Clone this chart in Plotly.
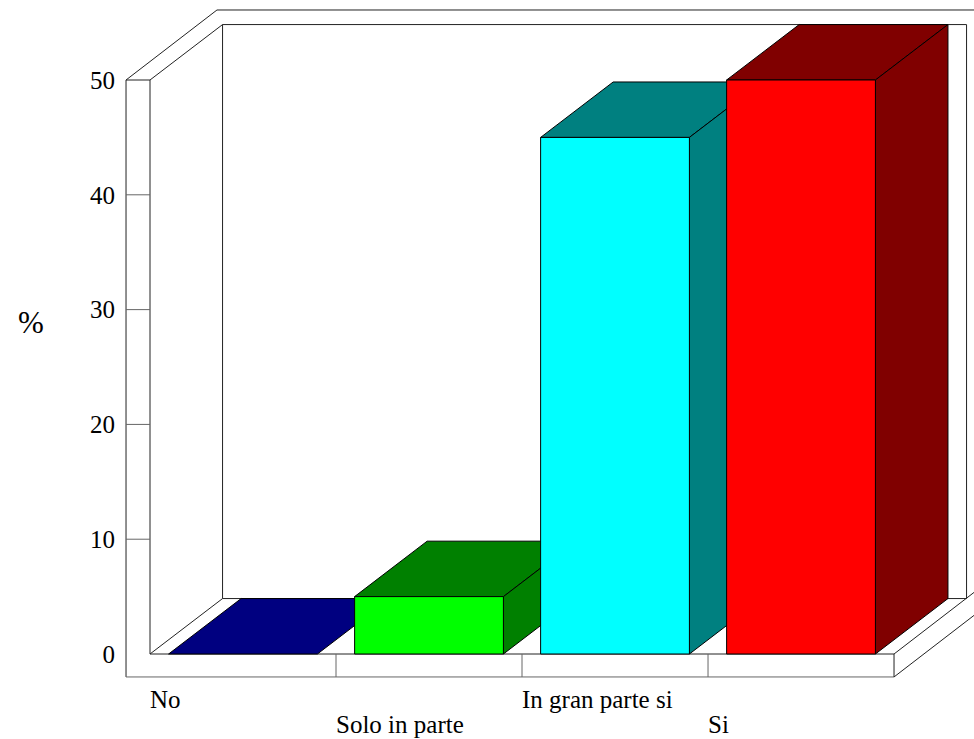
import plotly.graph_objects as go

# ---------------- data ----------------
categories = ["No", "Solo in parte", "In gran parte si", "Si"]
values = [0, 5, 45, 50]
front_colors = ["#0000FF", "#00FF00", "#00FFFF", "#FF0000"]
side_colors = ["#000080", "#008000", "#008080", "#800000"]
y_ticks = [0, 10, 20, 30, 40, 50]
y_title = "%"

# ---------------- geometry (data units) ----------------
N = len(categories)
YMAX = max(y_ticks)
BAR_W = 0.8
DX, DY = 0.39, 4.83      # depth of the box (back wall plane)
ODX, ODY = 0.489, 6.10   # outer depth of the walls
WALL_T = 0.129           # thickness of left wall
FLOOR_T = 2.0            # thickness of floor slab
XR = [-0.8065, 4.430]
YR = [-7.404, 56.97]

FRAME = "#222222"
BASE = "#666666"

fig = go.Figure()

# ---------------- frame (walls / floor) ----------------
segs = []
segs.append(((-WALL_T, YMAX), (-WALL_T, -FLOOR_T), FRAME))
segs.append(((0, YMAX), (0, 0), FRAME))
segs.append(((-WALL_T, YMAX), (0, YMAX), FRAME))
segs.append(((-WALL_T, YMAX), (-WALL_T + ODX, YMAX + ODY), FRAME))
segs.append(((0, YMAX), (DX, YMAX + DY), FRAME))
segs.append(((DX, DY), (DX, YMAX + DY), FRAME))
segs.append(((DX, YMAX + DY), (N + DX, YMAX + DY), FRAME))
segs.append(((N + DX, DY), (N + DX, YMAX + DY), FRAME))
segs.append(((DX, DY), (N + DX, DY), FRAME))
segs.append(((-WALL_T + ODX, YMAX + ODY), (N + 1, YMAX + ODY), FRAME))
segs.append(((0, 0), (DX, DY), FRAME))
segs.append(((0, 0), (N, 0), FRAME))
segs.append(((-WALL_T, -FLOOR_T), (N, -FLOOR_T), BASE))
segs.append(((N, 0), (N, -FLOOR_T), FRAME))
segs.append(((N, 0), (N + ODX, ODY), FRAME))
segs.append(((N, -FLOOR_T), (N + ODX, -FLOOR_T + ODY), FRAME))
for t in y_ticks[1:-1]:
    segs.append(((-WALL_T, t), (0, t), BASE))
for i in range(1, N):
    segs.append(((i, 0), (i, -FLOOR_T), BASE))

for (x0, y0), (x1, y1), col in segs:
    fig.add_shape(type="line", x0=x0, y0=y0, x1=x1, y1=y1, xref="x", yref="y",
                  line=dict(color=col, width=1), layer="below")

# ---------------- 3D bars ----------------
def poly(xs, ys, fill):
    fig.add_trace(go.Scatter(x=xs + [xs[0]], y=ys + [ys[0]], mode="lines",
                             fill="toself", fillcolor=fill,
                             line=dict(color="#000000", width=1),
                             hoverinfo="skip", showlegend=False))

for i, (v, fc, sc) in enumerate(zip(values, front_colors, side_colors)):
    x0 = i + (1 - BAR_W) / 2
    x1 = x0 + BAR_W
    # top face
    poly([x0, x1, x1 + DX, x0 + DX], [v, v, v + DY, v + DY], sc)
    if v > 0:
        # side face
        poly([x1, x1 + DX, x1 + DX, x1], [0, DY, v + DY, v], sc)
        # front face
        poly([x0, x1, x1, x0], [0, 0, v, v], fc)

# ---------------- category labels (staggered) ----------------
for i, c in enumerate(categories):
    fig.add_annotation(x=i, y=-3.92 if i % 2 == 0 else -6.10, text=c,
                       xref="x", yref="y", xanchor="left", yanchor="middle",
                       xshift=-2, showarrow=False,
                       font=dict(family="Liberation Serif", size=25, color="#000000"))

fig.add_annotation(x=31 / 974, y=1 - 322 / 739, xref="paper", yref="paper",
                   text=y_title, showarrow=False, xanchor="center", yanchor="middle",
                   font=dict(family="Liberation Serif", size=31, color="#000000"))

fig.update_layout(
    width=974, height=739,
    margin=dict(l=0, r=0, t=0, b=0),
    paper_bgcolor="white", plot_bgcolor="white",
    showlegend=False,
    xaxis=dict(range=XR, visible=False, fixedrange=True),
    yaxis=dict(range=YR, tickvals=y_ticks, showgrid=False, zeroline=False,
               showline=False, ticks="", anchor="free",
               position=(-WALL_T - XR[0]) / (XR[1] - XR[0]),
               ticklabelstandoff=11,
               tickfont=dict(family="Liberation Serif", size=25, color="#000000"),
               fixedrange=True),
)

fig.write_html("out.html", config={"displayModeBar": False},
               post_script="document.body.style.margin='0';")
